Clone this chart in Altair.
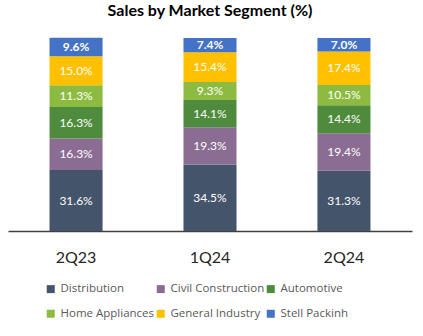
import altair as alt
import pandas as pd

quarters = ["2Q23", "1Q24", "2Q24"]
segments = ["Distribution", "Civil Construction", "Automotive",
            "Home Appliances", "General Industry", "Stell Packinh"]
distribution = [31.6, 34.5, 31.3]
civil_construction = [16.3, 19.3, 19.4]
automotive = [16.3, 14.1, 14.4]
home_appliances = [11.3, 9.3, 10.5]
general_industry = [15.0, 15.4, 17.4]
stell_packinh = [9.6, 7.4, 7.0]
colors = ["#44546A", "#8B6D93", "#4E8B3C", "#8DBB41", "#FFC000", "#4472C4"]

series = [distribution, civil_construction, automotive,
          home_appliances, general_industry, stell_packinh]
rows = []
for si, (seg, vals) in enumerate(zip(segments, series)):
    for q, v in zip(quarters, vals):
        rows.append({"quarter": q, "segment": seg, "idx": si, "value": v,
                     "label": f"{v:.1f}%"})
df = pd.DataFrame(rows)

# legend fills column-major (2 rows x 3 columns); reorder so rows read like the original
legend_order = [0, 3, 1, 4, 2, 5]
leg_domain = [segments[i] for i in legend_order]
leg_range = [colors[i] for i in legend_order]

base = alt.Chart(df).transform_stack(
    stack="value", groupby=["quarter"], sort=[alt.SortField("idx", order="ascending")],
    as_=["y0", "y1"]
).transform_calculate(mid="(datum.y0 + datum.y1) / 2")

xenc = alt.X("quarter:N", sort=quarters, title=None,
             scale=alt.Scale(paddingInner=0.604, paddingOuter=0.31),
             axis=alt.Axis(labelAngle=0, ticks=False, labelPadding=18,
                           labelFont="Lato", labelFontSize=16, labelColor="#262626",
                           domainColor="#404040", domainWidth=1.5, grid=False))
yscale = alt.Scale(domain=[0, 100], nice=False, zero=True)

bars = base.mark_bar().encode(
    x=xenc,
    y=alt.Y("y0:Q", scale=yscale, axis=None),
    y2="y1:Q",
    color=alt.Color("segment:N",
                    scale=alt.Scale(domain=leg_domain, range=leg_range),
                    legend=alt.Legend(title=None, orient="none", legendX=37, legendY=245,
                                      columns=3, gridAlign="all", symbolType="square",
                                      symbolSize=64, symbolStrokeWidth=0,
                                      labelFont="Open Sans", labelFontSize=11.5,
                                      labelColor="#595959", columnPadding=0,
                                      rowPadding=12, padding=0, labelOffset=4)),
)

labels = base.transform_filter("datum.idx < 5").mark_text(
    font="Lato", fontSize=12, color="white").encode(
    x=alt.X("quarter:N", sort=quarters),
    y=alt.Y("mid:Q", scale=yscale),
    text="label:N",
)
top_labels = base.transform_filter("datum.idx == 5").mark_text(
    font="Lato", fontSize=12, color="white", fontWeight="bold").encode(
    x=alt.X("quarter:N", sort=quarters),
    y=alt.Y("mid:Q", scale=yscale),
    text="label:N",
)

chart = alt.layer(bars, labels, top_labels).properties(
    width=404, height=193,
    title=alt.Title("Sales by Market Segment (%)", font="Lato", fontSize=16,
                    fontWeight="bold", color="#000000", offset=19, anchor="middle"),
    autosize=alt.AutoSizeParams(type="none"),
    padding={"left": 8, "top": 38, "right": 11, "bottom": 105},
).configure_view(stroke=None)

chart.save("out.html", embed_options={"renderer": "svg", "actions": False})
